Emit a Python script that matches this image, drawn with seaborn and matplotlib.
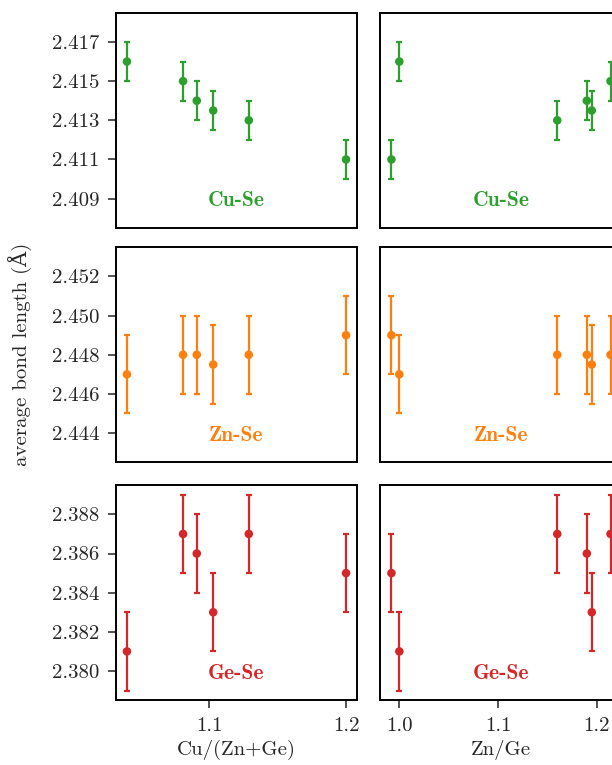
import numpy as np
import pandas as pd
import seaborn as sns
import matplotlib.pyplot as plt
from matplotlib.ticker import MultipleLocator

# Messwerte (sechs Proben)
cu_ratio = [1.040, 1.081, 1.091, 1.103, 1.129, 1.200]   # Cu/(Zn+Ge)
zn_ratio = [1.000, 1.214, 1.190, 1.195, 1.160, 0.992]   # Zn/Ge

cuse = [2.416, 2.415, 2.414, 2.4135, 2.413, 2.411]
znse = [2.447, 2.448, 2.448, 2.4475, 2.448, 2.449]
gese = [2.381, 2.387, 2.386, 2.383, 2.387, 2.385]

cuse_err = [0.001] * 6
znse_err = [0.002] * 6
gese_err = [0.002] * 6

bonds = ['Cu-Se', 'Zn-Se', 'Ge-Se']
row_centers = [2.413, 2.448, 2.384]
tick_offsets = [0.001, 0.0, 0.0]
colors = ['#2ca02c', '#ff7f0e', '#d62728']

sns.set_theme(style='ticks')
plt.rcParams.update({
    'font.family': ['cmr10', 'DejaVu Serif'],
    'axes.formatter.use_mathtext': True,
    'font.size': 15,
    'axes.edgecolor': 'black',
    'axes.linewidth': 1.4,
    'xtick.major.size': 5.8,
    'ytick.major.size': 5.8,
    'xtick.major.width': 1.1,
    'ytick.major.width': 1.1,
    'xtick.major.pad': 6,
    'ytick.major.pad': 6,
    'xtick.labelsize': 15,
    'ytick.labelsize': 15,
    'axes.labelsize': 15,
})

df = pd.DataFrame({'cu': cu_ratio, 'zn': zn_ratio,
                   'Cu-Se': cuse, 'Zn-Se': znse, 'Ge-Se': gese})
errs = {'Cu-Se': cuse_err, 'Zn-Se': znse_err, 'Ge-Se': gese_err}

fig = plt.figure(figsize=(6.12, 7.65), dpi=100)
W = 0.3938
H = 0.2815
bottoms = [0.702, 0.3955, 0.0845]
lefts = [0.1895, 0.6217]

for r, bond in enumerate(bonds):
    for c, xcol in enumerate(['cu', 'zn']):
        ax = fig.add_axes([lefts[c], bottoms[r], W, H])
        ax.errorbar(df[xcol], df[bond], yerr=errs[bond], fmt='none',
                    ecolor=colors[r], elinewidth=1.6, capsize=2.2, capthick=1.6)
        sns.scatterplot(x=df[xcol], y=df[bond], color=colors[r], s=38,
                        edgecolor='none', ax=ax, zorder=3)
        ax.set_ylim(row_centers[r] - 0.0055, row_centers[r] + 0.0055)
        ax.yaxis.set_major_locator(MultipleLocator(0.002, offset=tick_offsets[r]))
        ax.xaxis.set_major_locator(MultipleLocator(0.1))
        ax.set_xlabel('')
        ax.set_ylabel('')
        ax.text(0.5, 0.127, bond, transform=ax.transAxes, ha='center',
                va='center', color=colors[r], fontsize=15.5,
                family=['cmb10', 'DejaVu Serif'])
        if c == 1:
            ax.tick_params(left=False, labelleft=False)
        else:
            ax.yaxis.set_major_formatter(plt.FormatStrFormatter('%.3f'))
        if r < 2:
            ax.tick_params(bottom=False, labelbottom=False)
        else:
            ax.xaxis.set_major_formatter(plt.FormatStrFormatter('%.1f'))
            ax.set_xlabel('Cu/(Zn+Ge)' if c == 0 else 'Zn/Ge', labelpad=4)
        if r == 1 and c == 0:
            ax.set_ylabel('average bond length (Å)')
            ax.yaxis.set_label_coords(-0.35, 0.5)

fig.savefig('out.png', dpi=100)
